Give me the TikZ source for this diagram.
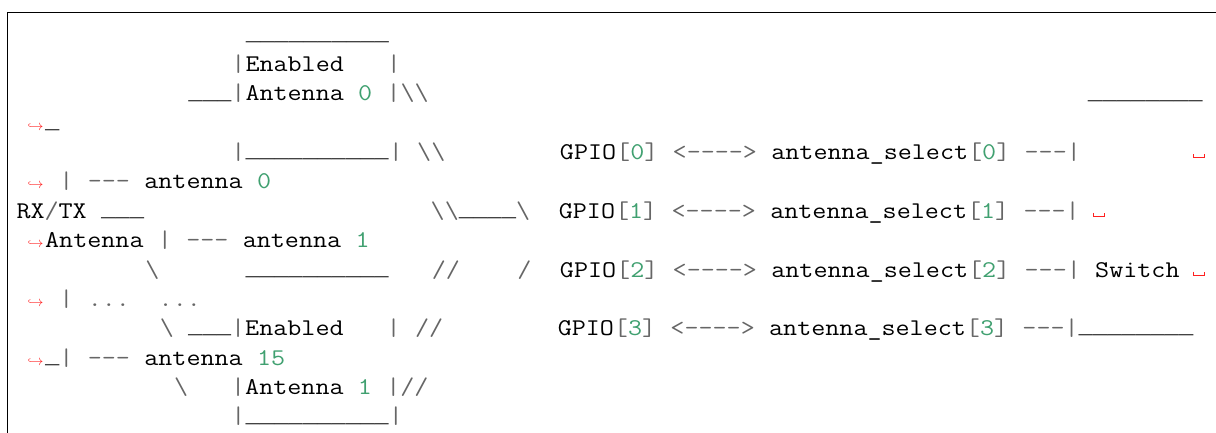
\documentclass[tikz,border=0pt]{standalone}
\usepackage{fontspec}
\usepackage{xcolor}
\usepackage{graphicx}
\newfontfamily\usf{Liberation Mono}
\definecolor{opc}{HTML}{666666}
\definecolor{numc}{HTML}{40A070}
\definecolor{markc}{HTML}{FF2020}
\definecolor{framec}{HTML}{000000}
\newlength\cwd
\setlength\cwd{12.6pt}
\newcommand\sk[1]{\hspace*{#1\cwd}}
\newcommand\Op[1]{\textcolor{opc}{#1}}
\newcommand\Nm[1]{\textcolor{numc}{#1}}
\newcommand\Bs{\textbackslash}
\newcommand\Dh{-\kern0pt }
\newcommand\Arr{\Op{<\kern0pt\Dh\Dh\Dh\Dh>}}
\newcommand\Tri{\Op{\Dh\Dh\Dh|}}
\newcommand\Us[1]{\raisebox{1.8pt}{\usf\fontsize{21}{21}\selectfont #1}}
\newcommand\Ten{\Us{\_\_\_\_\_\_\_\_\_\_}}
\newcommand\Eig{\Us{\_\_\_\_\_\_\_\_}}
\newcommand\Ln[1]{\scalebox{1.1373}[1]{#1}}
\begin{document}
\begin{tikzpicture}[x=1pt,y=1pt,
  ln/.style={anchor=base west, inner sep=0pt, outer sep=0pt, font=\fontsize{24}{24}\selectfont\ttfamily},
  cont/.style={anchor=base east, inner sep=0pt, outer sep=0pt, text=markc, font=\fontsize{15.5}{15.5}\selectfont},
  vis/.style={draw=markc, line width=0.8pt},
  frame/.style={draw=framec, line width=1pt}]
\useasboundingbox (0,0) rectangle (1216,-433);
% code block frame
\draw[frame] (7.3,-440) -- (7.3,-12.3) -- (1220,-12.3);
% lines
\node[ln] (l1) at (16.5,-42.14) {\Ln{\sk{16}\Ten}};
\node[ln] (l2) at (16.5,-71.5) {\Ln{\sk{15}\Op{|}Enabled\sk{3}\Op{|}}};
\node[ln] (l3) at (16.5,-100.86) {\Ln{\sk{12}\Us{\_\_\_}\Op{|}Antenna\sk{1}\Nm{0}\sk{1}\Op{|\Bs\Bs}\sk{46}\Eig}};
\node[cont] (c4) at (43.5,-130.22) {$\hookrightarrow$};
\node[ln] (l4) at (45.16,-130.22) {\Ln{\Us{\_}}};
\node[ln] (l5) at (16.5,-159.58) {\Ln{\sk{15}\Op{|}\Ten\Op{|}\sk{1}\Op{\Bs\Bs}\sk{8}GPIO\Op{[}\Nm{0}\Op{]}\sk{1}\Arr\sk{1}antenna\_select\Op{[}\Nm{0}\Op{]}\sk{1}\Tri}};
\draw[vis] (1193.6,-154.1) -- (1193.6,-157.6) -- (1204.6,-157.6) -- (1204.6,-154.1);
\node[cont] (c6) at (43.5,-188.94) {$\hookrightarrow$};
\node[ln] (l6) at (45.16,-188.94) {\Ln{\sk{1}\Op{|}\sk{1}\Op{\Dh\Dh-}\sk{1}antenna\sk{1}\Nm{0}}};
\node[ln] (l7) at (16.5,-218.30) {\Ln{RX\Op{/}TX\sk{1}\Us{\_\_\_}\sk{20}\Op{\Bs\Bs}\Us{\_\_\_\_}\Op{\Bs}\sk{2}GPIO\Op{[}\Nm{1}\Op{]}\sk{1}\Arr\sk{1}antenna\_select\Op{[}\Nm{1}\Op{]}\sk{1}\Tri}};
\draw[vis] (1093.75,-212.8) -- (1093.75,-216.3) -- (1104.75,-216.3) -- (1104.75,-212.8);
\node[cont] (c8) at (43.5,-247.66) {$\hookrightarrow$};
\node[ln] (l8) at (45.16,-247.66) {\Ln{Antenna\sk{1}\Op{|}\sk{1}\Op{\Dh\Dh-}\sk{1}antenna\sk{1}\Nm{1}}};
\node[ln] (l9) at (16.5,-277.02) {\Ln{\sk{9}\Op{\Bs}\sk{6}\Ten\sk{3}\Op{//}\sk{4}\Op{/}\sk{2}GPIO\Op{[}\Nm{2}\Op{]}\sk{1}\Arr\sk{1}antenna\_select\Op{[}\Nm{2}\Op{]}\sk{1}\Tri\sk{1}Switch}};
\draw[vis] (1193.6,-271.5) -- (1193.6,-275.0) -- (1204.6,-275.0) -- (1204.6,-271.5);
\node[cont] (c10) at (43.5,-306.38) {$\hookrightarrow$};
\node[ln] (l10) at (45.16,-306.38) {\Ln{\sk{1}\Op{|}\sk{1}\Op{...}\sk{2}\Op{...}}};
\node[ln] (l11) at (16.5,-335.74) {\Ln{\sk{10}\Op{\Bs}\sk{1}\Us{\_\_\_}\Op{|}Enabled\sk{3}\Op{|}\sk{1}\Op{//}\sk{8}GPIO\Op{[}\Nm{3}\Op{]}\sk{1}\Arr\sk{1}antenna\_select\Op{[}\Nm{3}\Op{]}\sk{1}\Tri\Eig}};
\node[cont] (c12) at (43.5,-365.10) {$\hookrightarrow$};
\node[ln] (l12) at (45.16,-365.10) {\Ln{\Us{\_}\Op{|}\sk{1}\Op{\Dh\Dh-}\sk{1}antenna\sk{1}\Nm{15}}};
\node[ln] (l13) at (16.5,-394.46) {\Ln{\sk{11}\Op{\Bs}\sk{3}\Op{|}Antenna\sk{1}\Nm{1}\sk{1}\Op{|//}}};
\node[ln] (l14) at (16.5,-423.82) {\Ln{\sk{15}\Op{|}\Ten\Op{|}}};
\end{tikzpicture}
\end{document}
